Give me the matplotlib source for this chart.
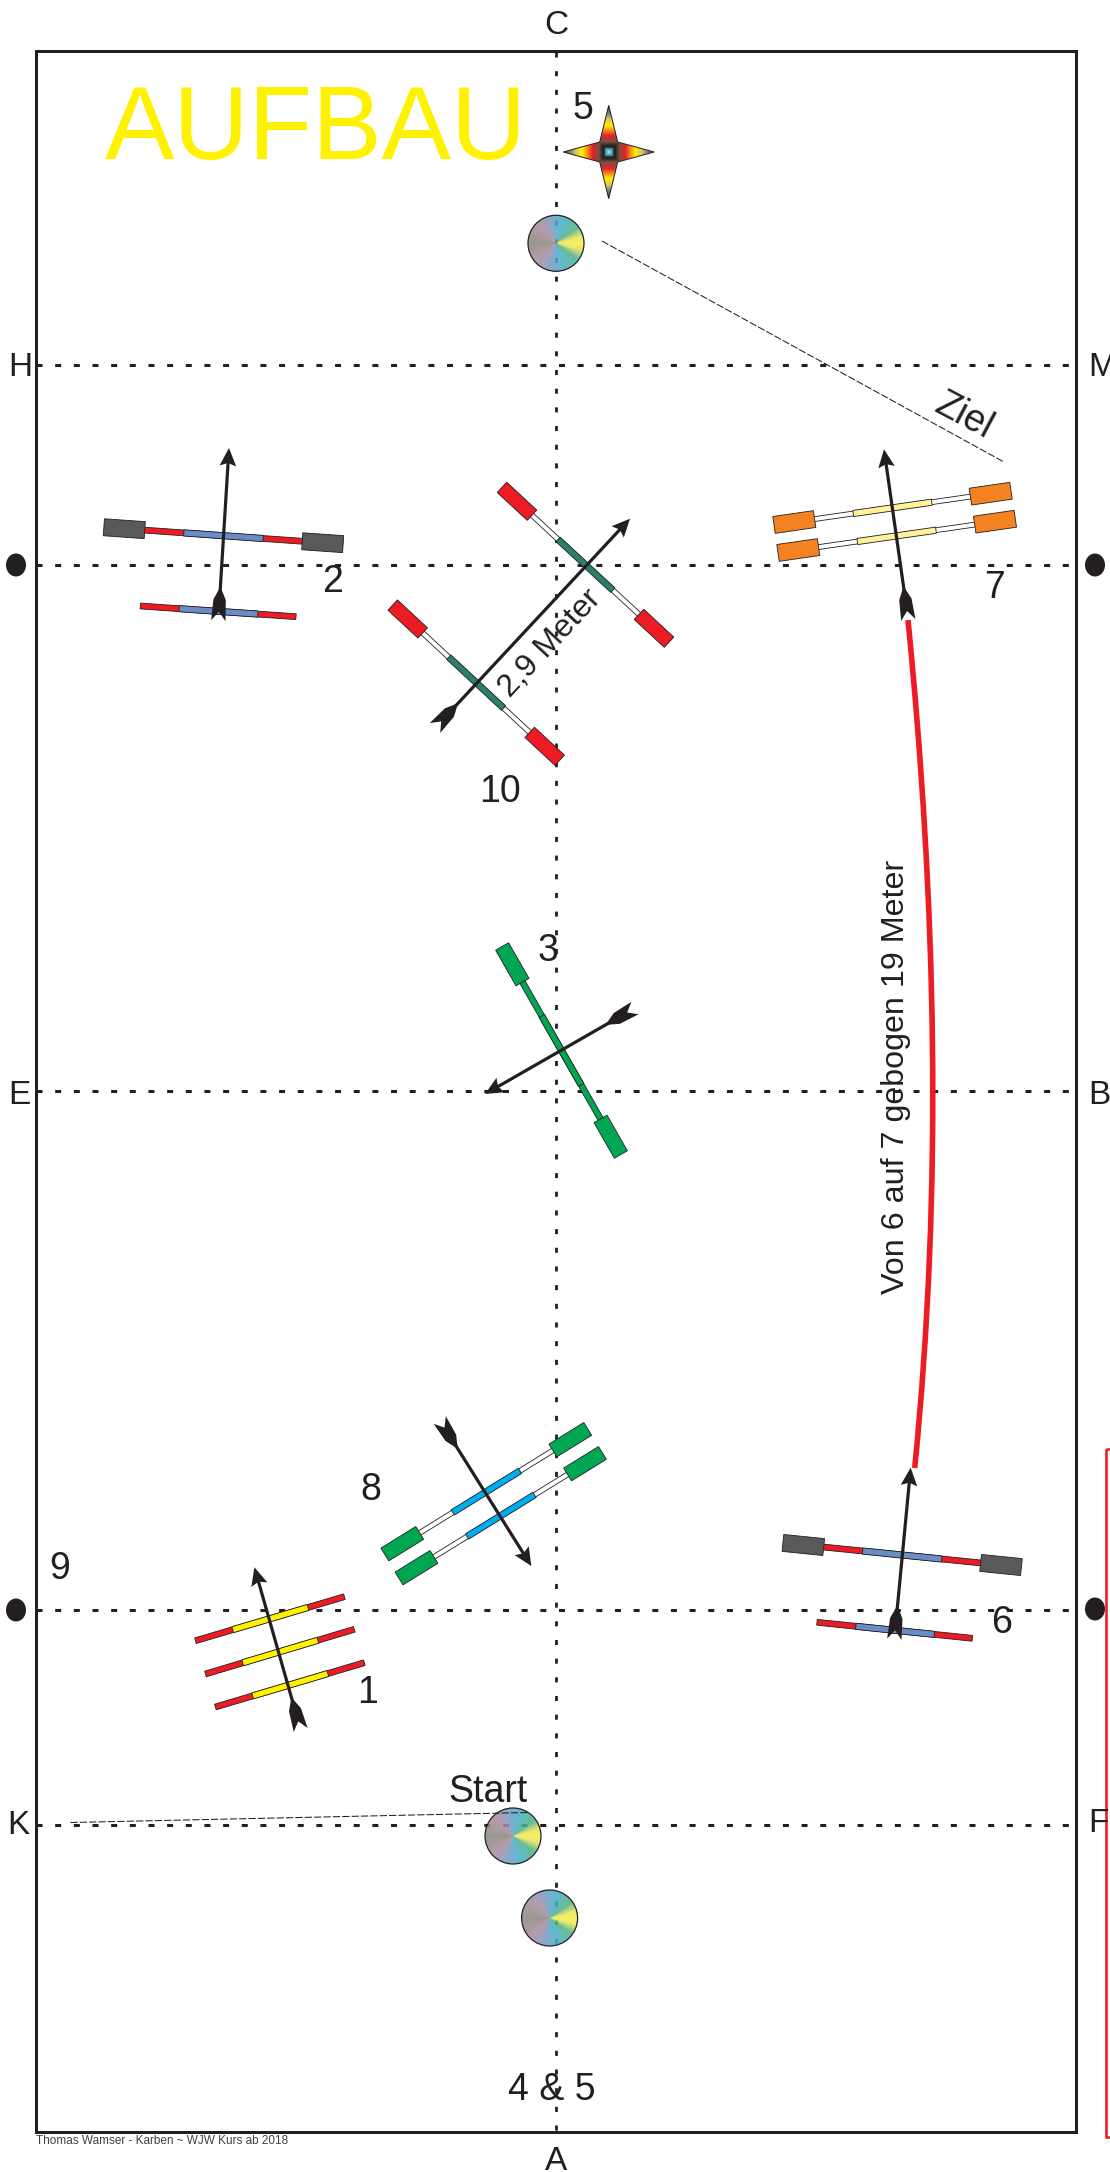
import numpy as np
import matplotlib
matplotlib.use("Agg")
import matplotlib.pyplot as plt
from matplotlib.patches import Polygon, Rectangle, Circle, Ellipse, PathPatch
from matplotlib.path import Path
from matplotlib.colors import LinearSegmentedColormap

plt.rcParams['font.family'] = ['Liberation Sans', 'DejaVu Sans']

INK = '#231f20'
RED = '#ed1c24'
GREY = '#58595b'
BLUE = '#6a8cc8'
TEAL = '#2a7f6d'
GREEN = '#00a651'
CYAN = '#00aeef'
ORANGE = '#f58220'
PALE = '#fff29b'
YELLOW = '#fff200'
WHITE = '#ffffff'

# Arena
frame_x = [36, 1075.5]
frame_y = [51, 2131.5]
center_x = 556
hlines_y = [364.5, 565, 1091, 1609.5, 1824.5]
dots_xy = [(16, 565), (1095, 565), (16, 1610), (1095, 1609)]
red_box = (1105.7, 1449, 2137)

# Gates: p1, p2, colours (block, outer, inner)
gates_block = [
    ((124.3, 528.7), (322.7, 542.7), GREY, RED, BLUE),
    ((517, 501.3), (654, 628.3), RED, WHITE, TEAL),
    ((407.7, 619), (544.7, 746.3), RED, WHITE, TEAL),
    ((794.3, 522), (990.7, 493.7), ORANGE, WHITE, PALE),
    ((798.3, 550), (995, 521.7), ORANGE, WHITE, PALE),
    ((512.3, 964.3), (610.7, 1136.7), GREEN, GREEN, GREEN),
    ((402.3, 1543.7), (570.3, 1439.7), GREEN, WHITE, CYAN),
    ((416.5, 1567.7), (585, 1463.7), GREEN, WHITE, CYAN),
    ((803.3, 1545), (1001, 1565), GREY, RED, BLUE),
]
# Poles without end blocks: p1, p2, outer, inner
poles_plain = [
    ((140.3, 606), (296, 616.7), RED, BLUE),
    ((817, 1622.3), (972.3, 1638.3), RED, BLUE),
    ((195.5, 1640.7), (344.4, 1596.7), RED, YELLOW),
    ((205.5, 1674), (354.3, 1629.3), RED, YELLOW),
    ((215.4, 1707), (364.3, 1662.7), RED, YELLOW),
]
# Arrows: tip, tail end
arrows = [
    ((229, 448), (218.3, 620.7)),
    ((630, 518.7), (435, 728)),
    ((884, 449.3), (908.3, 620)),
    ((485, 1094), (635, 1008)),
    ((531.3, 1566), (439.7, 1420)),
    ((254.4, 1567.3), (300.7, 1730)),
    ((910.7, 1467.7), (894.3, 1639.3)),
]
# Bent line between 6 and 7
curve_pts = [(908, 620), (936, 903), (943, 1185), (914.7, 1468)]
# Thin leader lines
leaders = [((602, 241), (1004, 462)), ((70.4, 1822.5), (528, 1812.5))]
# Cones and star
cones_xy = [(556, 243.3), (513, 1836), (549.6, 1918)]
cone_stops = [(0, '#f7ec45'), (.08, '#e6e45a'), (.2, '#4fb184'), (.42, '#48aecb'),
              (.55, '#6f9dc4'), (.7, '#a68ea8'), (.85, '#a08a92'), (1, '#85897f')]
star_xy = (608.7, 152)
star_stops = [(0, '#c5eeee'), (.03, '#6fc5cf'), (.08, '#3d8b9b'), (.1, '#1f1f1f'), (.15, '#2b2b2b'),
              (.22, '#7a5040'), (.36, '#e2232a'), (.46, '#f58220'), (.58, '#fff000'),
              (.72, '#d8c860'), (.85, '#7f7a6a'), (1, '#3b3a6e')]

# Text
letters_left = [('H', 8, 367), ('E', 8, 1095), ('K', 7, 1825), ('M', 1088, 367), ('B', 1088, 1095), ('F', 1088, 1824)]
letters_center = [('C', 556, 26), ('A', 556, 2161)]
numbers = [('5', 582.7, 109), ('2', 333, 582), ('7', 995, 588), ('10', 500, 792), ('3', 548, 951),
           ('8', 371, 1490), ('1', 368, 1693), ('9', 60, 1569), ('6', 1002, 1623)]
notes = [('Start', 488.3, 1792, 27, 0), ('4 & 5', 551.5, 2090, 27, 0), ('Ziel', 964, 416, 27, -28),
         ('2,9 Meter', 550, 643, 23, 47), ('Von 6 auf 7 gebogen 19 Meter', 896, 1077, 23.2, 90)]
title = ('AUFBAU', 316, 132)
footer = ('Thomas Wamser - Karben ~ WJW Kurs ab 2018', 36, 2141)

fig = plt.figure(figsize=(11.10, 21.72), dpi=100)
ax = fig.add_axes([0, 0, 1, 1])
ax.set_xlim(0, 1110)
ax.set_ylim(2172, 0)
ax.axis('off')
PX = 0.72
BLOCK_WIDTH = {GREY: 17, ORANGE: 17, RED: 14, GREEN: 15}


def rect(p, q, width, color, z=3, lw=0.6):
    p, q = np.array(p, float), np.array(q, float)
    d = (q - p) / np.hypot(*(q - p))
    n = np.array([-d[1], d[0]]) * width / 2
    ax.add_patch(Polygon([p + n, q + n, q - n, p - n], closed=True, fc=color, ec=INK, lw=lw, zorder=z))


def pole(p1, p2, outer, inner, a, b):
    p1, p2 = np.array(p1, float), np.array(p2, float)
    rect(p1, p2, 4.8 if outer == WHITE else 5.8, outer, z=3)
    rect(p1 + (p2 - p1) * a, p1 + (p2 - p1) * b, 6.2, inner, z=3.1)


for p1, p2, block, outer, inner in gates_block:
    p1a, p2a = np.array(p1), np.array(p2)
    d = (p2a - p1a) / np.hypot(*(p2a - p1a))
    pole(p1, p2, outer, inner, 0.3, 0.7)
    blen = 41
    bw = BLOCK_WIDTH[block]
    rect(p1a - d * blen / 2, p1a + d * blen / 2, bw, block, z=3.2)
    rect(p2a - d * blen / 2, p2a + d * blen / 2, bw, block, z=3.2)

for p1, p2, outer, inner in poles_plain:
    pole(p1, p2, outer, inner, 0.25, 0.755)


def arrow(tip, tail):
    tip, tail = np.array(tip, float), np.array(tail, float)
    L = np.hypot(*(tip - tail))
    u = (tip - tail) / L
    v = np.array([-u[1], u[0]])
    P = lambda a, b: tail + u * a + v * b
    ax.plot(*zip(P(30, 0), P(L - 12, 0)), color=INK, lw=3.2 * PX, solid_capstyle='butt', zorder=4)
    ax.add_patch(Polygon([tip, P(L - 18, 8.3), P(L - 15, 0), P(L - 18, -8.3)], closed=True, fc=INK, ec='none', zorder=4))
    ax.add_patch(Polygon([P(34, 0), P(21, 6.2), P(0, 7.2), P(9, 0), P(0, -7.2), P(21, -6.2)],
                         closed=True, fc=INK, ec='none', zorder=4))


for tip, tail in arrows:
    arrow(tip, tail)

# Dotted guide lines
for y in hlines_y:
    ax.plot(frame_x, [y, y], color=INK, lw=3 * PX, dashes=(2, 4.22), dash_capstyle='butt', zorder=1)
ax.plot([center_x, center_x], [51.5, frame_y[1]], color=INK, lw=2.8 * PX, dashes=(1.8, 4.87),
        dash_capstyle='butt', zorder=1)

# Frame
ax.add_patch(Rectangle((frame_x[0], frame_y[0]), frame_x[1] - frame_x[0], frame_y[1] - frame_y[0],
                       fc='none', ec=INK, lw=3 * PX, zorder=2))
ax.add_patch(Rectangle((red_box[0], red_box[1]), 100, red_box[2] - red_box[1], fc='none', ec=RED, lw=2.6 * PX,
                       zorder=2, clip_on=True))

for x, y in dots_xy:
    ax.add_patch(Ellipse((x, y), 20, 23, fc=INK, ec='none', zorder=2))

# Curve
ax.add_patch(PathPatch(Path(curve_pts, [Path.MOVETO, Path.CURVE4, Path.CURVE4, Path.CURVE4]),
                       fc='none', ec=RED, lw=5.6 * PX, capstyle='butt', zorder=3))

# Leaders
for a, b in leaders:
    ax.plot(*zip(a, b), color=INK, lw=0.75, dashes=(7, 2), zorder=4.5)

# Cones
cone_map = LinearSegmentedColormap.from_list('cone', cone_stops)
star_map = LinearSegmentedColormap.from_list('star', star_stops)
R = 28
g = np.linspace(-R, R, 240)
gx, gy = np.meshgrid(g, g)
ang = np.abs(np.arctan2(gy, gx)) / np.pi
for cx, cy in cones_xy:
    im = ax.imshow(cone_map(ang), extent=(cx - R, cx + R, cy + R, cy - R), zorder=2.5, alpha=0.86,
                   interpolation='bilinear', aspect='auto')
    clip = Circle((cx, cy), R, transform=ax.transData)
    im.set_clip_path(clip)
    ax.add_patch(Circle((cx, cy), R, fc='none', ec=INK, lw=0.9, zorder=2.6))

# Star
sx, sy = star_xy
S = 47
g = np.linspace(-S, S, 380)
gx, gy = np.meshgrid(g, g)
d = np.maximum(np.abs(gx), np.abs(gy)) / 46
star = Polygon([(sx, sy - 46.7), (sx + 9, sy - 10), (sx + 45.5, sy), (sx + 9, sy + 10),
                (sx, sy + 46.7), (sx - 9, sy + 10), (sx - 45.5, sy), (sx - 9, sy - 10)],
               closed=True, fc='none', ec=INK, lw=0.7, zorder=3)
im = ax.imshow(star_map(np.clip(d, 0, 1)), extent=(sx - S, sx + S, sy + S, sy - S), zorder=2.9,
               interpolation='bilinear', aspect='auto')
ax.add_patch(star)
im.set_clip_path(star)
ax.set_xlim(0, 1110)
ax.set_ylim(2172, 0)

# Text
for s, x, y in letters_left:
    ax.text(x, y, s, fontsize=24, color=INK, ha='left', va='center', zorder=5)
for s, x, y in letters_center:
    ax.text(x, y, s, fontsize=24, color=INK, ha='center', va='center', zorder=5)
for s, x, y in numbers:
    ax.text(x, y, s, fontsize=27, color=INK, ha='center', va='center', zorder=5)
for s, x, y, fs, rot in notes:
    ax.text(x, y, s, fontsize=fs, color=INK, ha='center', va='center', rotation=rot,
            rotation_mode='anchor', zorder=5)
ax.text(title[1], title[2], title[0], fontsize=75, color=YELLOW, ha='center', va='center', zorder=5)
ax.text(footer[1], footer[2], footer[0], fontsize=8.5, color='#414042', ha='left', va='center', zorder=5)

fig.savefig('out.png', dpi=100)
